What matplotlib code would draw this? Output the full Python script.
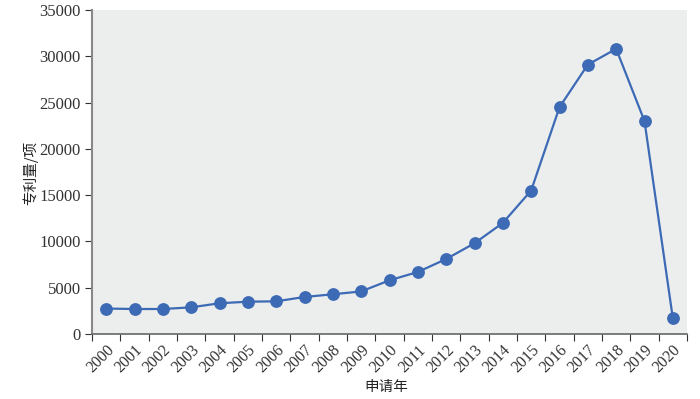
import matplotlib
matplotlib.use("Agg")
import matplotlib.pyplot as plt
import numpy as np

years = ['2000', '2001', '2002', '2003', '2004', '2005', '2006', '2007', '2008', '2009', '2010',
         '2011', '2012', '2013', '2014', '2015', '2016', '2017', '2018', '2019', '2020']
patents = [2750, 2700, 2700, 2880, 3320, 3490, 3530, 4000, 4290, 4600, 5800,
           6700, 8100, 9800, 12000, 15500, 24500, 29100, 30800, 23000, 1700]

cjk = ['Noto Sans CJK SC', 'DejaVu Sans']
serif = ['Liberation Serif', 'DejaVu Serif']

fig = plt.figure(figsize=(7, 3.99), dpi=100)
ax = fig.add_axes([92 / 700, 1 - 334 / 399, 595 / 700, 324 / 399])
ax.set_facecolor('#eceeee')

x = np.arange(len(years)) + 0.5
ax.plot(x, patents, color='#3d6ab5', lw=1.6, marker='o', markersize=8.2, zorder=3)

ax.set_xlim(0, len(years))
ax.set_ylim(0, 35000)
ax.set_yticks(np.arange(0, 35001, 5000))
ax.set_yticklabels([str(v) for v in range(0, 35001, 5000)], fontsize=12, family=serif, color='#333333')

# ticks at band edges, labels at band centres
ax.set_xticks(np.arange(len(years) + 1))
ax.set_xticklabels([])
ax.set_xticks(x, minor=True)
ax.set_xticklabels(years, minor=True, rotation=45, ha='right', va='top', rotation_mode='anchor',
                   fontsize=11.5, family=serif, color='#333333')
ax.tick_params(axis='x', which='minor', length=0, pad=6)
ax.tick_params(axis='x', which='major', length=5, color='#333333')
ax.tick_params(axis='y', length=5, color='#333333', pad=3)

for s in ['top', 'right']:
    ax.spines[s].set_visible(False)
ax.spines['left'].set_color('#888888')
ax.spines['left'].set_linewidth(1.5)
ax.spines['bottom'].set_color('#666666')
ax.spines['bottom'].set_linewidth(1.2)

fig.text(30 / 700, 1 - 173 / 399, '专利量/项', rotation=90, ha='center', va='center',
         fontsize=10.5, family=cjk, color='#222222')
fig.text(386 / 700, 1 - 387 / 399, '申请年', ha='center', va='center',
         fontsize=10.5, family=cjk, color='#222222')

fig.savefig('out.png', dpi=100)
